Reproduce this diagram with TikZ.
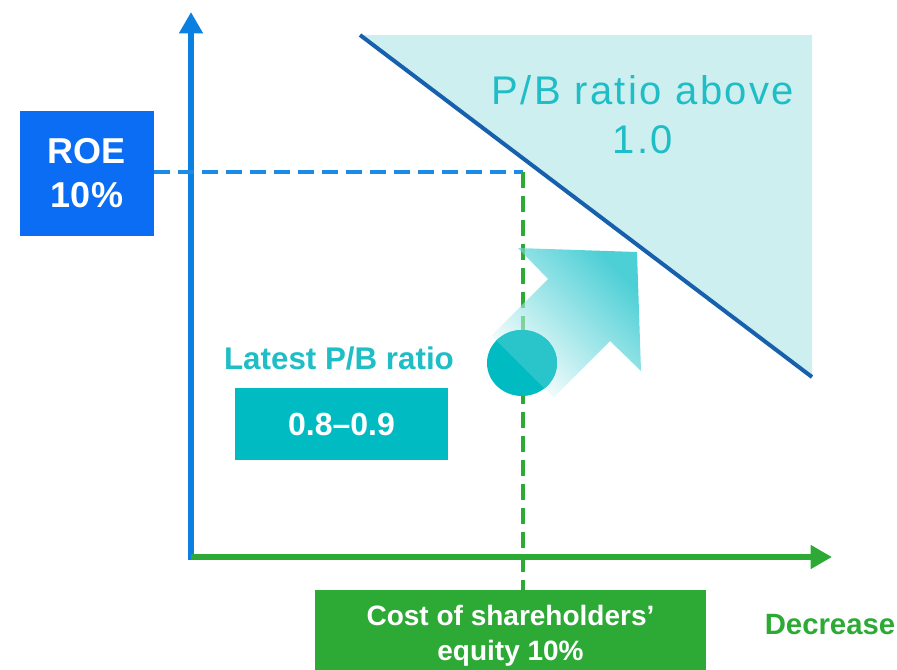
\documentclass[tikz,border=0pt]{standalone}
\usepackage{fontspec}
\setmainfont{Liberation Sans}
\usetikzlibrary{arrows.meta}

\definecolor{axisblue}{HTML}{0B80E0}
\definecolor{roeblue}{HTML}{0A6DF4}
\definecolor{dashblue}{HTML}{1A8BE8}
\definecolor{diagblue}{HTML}{1760AE}
\definecolor{zonefill}{HTML}{CDEFF0}
\definecolor{tealtext}{HTML}{1FBDC6}
\definecolor{tealbox}{HTML}{00BCC2}
\definecolor{teallight}{HTML}{2AC5CA}
\definecolor{costgreen}{HTML}{2DAA36}
\definecolor{arrowcyan}{HTML}{4CCFD5}

% outline of the big move arrow
\newcommand\movearrow{(491.5,335.5) -- (548,279) -- (518,248) -- (637,252) -- (641,371) -- (610,341) -- (553.5,397.5) -- cycle}

\begin{document}
\begin{tikzpicture}[x=0.75pt,y=-0.75pt,
  box/.style={draw=none,minimum width=#1,inner sep=0pt,align=center,text=white,font=\bfseries},
  guide/.style={line width=2.6pt,dash pattern=on 12pt off 6pt}]
\useasboundingbox (0,0) rectangle (897,669);
% axes and break-even line
\coordinate (o) at (191,557);
\coordinate (ytip) at (191,12);
\coordinate (xtip) at (832,557);
\coordinate (d1) at (360,35);
\coordinate (d2) at (812,377);
\coordinate (c) at (523,172);
\coordinate (pt) at (522,363);
\fill[zonefill] (d1) -- (812,35) -- (d2) -- cycle;
\draw[diagblue,line width=3pt] (d1) -- (d2);
\draw[axisblue,line width=4.5pt,-{Triangle[length=16pt,width=17pt]}] (191,560) -- (ytip);
\draw[costgreen,line width=4pt,-{Triangle[length=16pt,width=17pt]}] (o) -- (xtip);
\node[text=tealtext,align=center,font=\fontsize{30}{37}\selectfont\addfontfeature{LetterSpace=6}] (above) at (643,115) {P/B ratio above\\1.0};
% boxes
\node[box=100.5pt,minimum height=93.75pt,fill=roeblue,font=\bfseries\fontsize{27}{33}\selectfont] (roe) at (87,173.5) {ROE\\10\%};
\node[box=160pt,minimum height=54pt,fill=tealbox,font=\bfseries\fontsize{24}{28}\selectfont] (pbbox) at (341.5,424) {0.8--0.9};
\node[text=tealtext,font=\bfseries\fontsize{23.5}{27}\selectfont] (latest) at (339,358) {Latest P/B ratio};
\node[box=293pt,minimum height=69pt,fill=costgreen,font=\bfseries\fontsize{21}{26}\selectfont] (cost) at (510.5,636) {Cost of shareholders'\\equity 10\%};
\node[text=costgreen,font=\bfseries\fontsize{22}{26}\selectfont] (decr) at (830,625) {Decrease};
% guide lines
\draw[guide,dashblue] (roe.east |- c) -- (c);
\draw[guide,costgreen] (c) -- (c |- cost.north);
% move arrow, seen through
\shade[bottom color=white,top color=arrowcyan,shading angle=-45] \movearrow;
\begin{scope}
  \clip \movearrow;
  \draw[guide,costgreen,opacity=.45] (c) -- (c |- cost.north);
\end{scope}
% current point
\fill[tealbox] (pt) ellipse [x radius=35,y radius=33];
\begin{scope}
  \clip \movearrow;
  \fill[teallight] (pt) ellipse [x radius=35,y radius=33];
\end{scope}
\end{tikzpicture}
\end{document}
